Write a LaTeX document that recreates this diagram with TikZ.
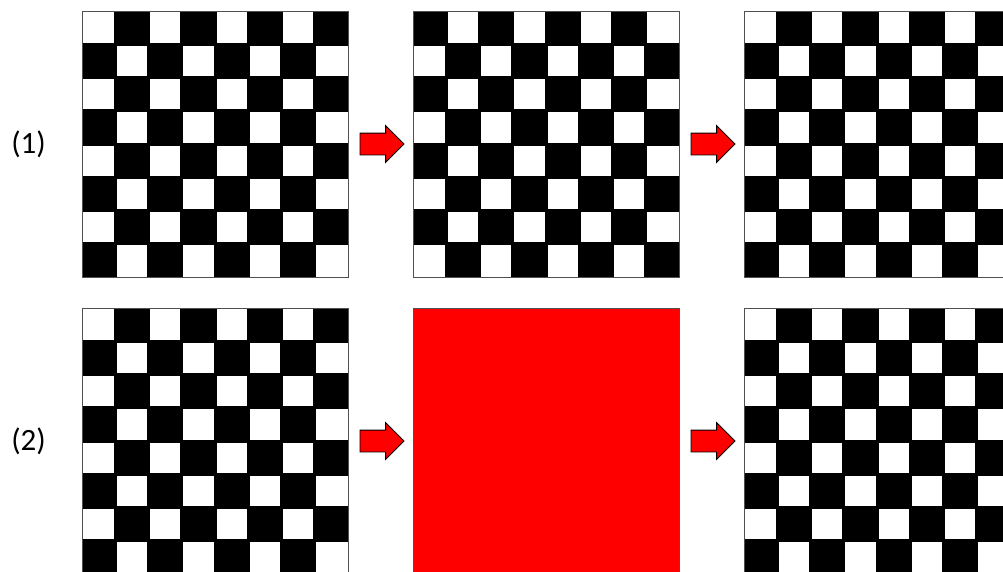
\documentclass[tikz,border=0pt]{standalone}
\usepackage{fontspec}
\setmainfont{Carlito}
\usetikzlibrary{positioning,shapes.arrows}
\definecolor{SignalRed}{HTML}{FF0000}
\definecolor{EdgeGray}{HTML}{505050}

\begin{document}
\begin{tikzpicture}[x=1pt,y=-1pt,
lbl/.style={inner sep=0pt,font=\fontsize{31pt}{36pt}\selectfont},
board/.style={draw=EdgeGray,line width=0.8pt,minimum size=266pt,inner sep=0pt,outer sep=0pt,
  path picture={
    \foreach \r in {0,...,7}
      \foreach \c in {0,...,7}{
        \pgfmathtruncatemacro{\k}{mod(\r+\c+#1,2)}
        \ifnum\k=1
          \filldraw[black,line width=3pt] ([xshift=\c*33.25pt,yshift=-\r*33.25pt]path picture bounding box.north west) rectangle ++(33.25pt,-33.25pt);
        \fi}}},
blank/.style={draw=EdgeGray,line width=0.8pt,fill=SignalRed,minimum size=266pt,inner sep=0pt,outer sep=0pt},
redarrow/.style={single arrow,draw=black,fill=SignalRed,line width=0.8pt,inner sep=0pt,outer sep=0pt,
  inner ysep=10.5pt,single arrow head extend=7.5pt,minimum height=44pt}]
\clip (0,0) rectangle (1003,571);
% row (1)
\node[board=0,anchor=north west] (B1) at (82,11) {};
\node[redarrow,right=12pt of B1] (A1) {};
\node[board=1,right=9pt of A1] (B2) {};
\node[redarrow,right=12pt of B2] (A2) {};
\node[board=0,right=9pt of A2] (B3) {};
\node[lbl,left=36pt of B1] (L1) {(1)};
% row (2)
\node[board=0,below=31pt of B1] (B4) {};
\node[redarrow,right=12pt of B4] (A3) {};
\node[blank,right=9pt of A3] (B5) {};
\node[redarrow,right=12pt of B5] (A4) {};
\node[board=0,right=9pt of A4] (B6) {};
\node[lbl,left=36pt of B4] (L2) {(2)};
\end{tikzpicture}
\end{document}
